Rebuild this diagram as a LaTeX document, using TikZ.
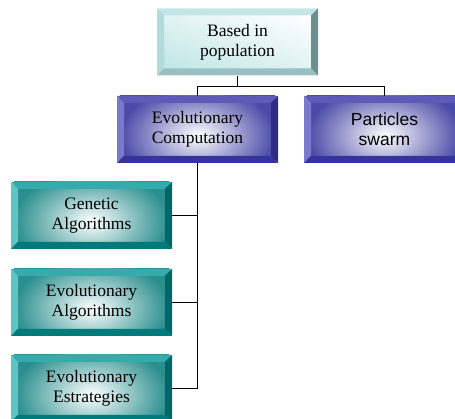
\documentclass[tikz,border=0pt]{standalone}
\usepackage{fontspec}
\setmainfont{Liberation Serif}
\newfontfamily\arialf{Liberation Sans}
\usetikzlibrary{shadings}
\definecolor{tt}{HTML}{C4E6E6}
\definecolor{tl}{HTML}{B2DCDC}
\definecolor{tr}{HTML}{6E8F8F}
\definecolor{tb}{HTML}{98C0C0}
\definecolor{tfa}{HTML}{BFE6E6}
\definecolor{tfb}{HTML}{E2F3F3}
\definecolor{bt}{HTML}{5C5CB8}
\definecolor{bl}{HTML}{7A7ACC}
\definecolor{br}{HTML}{2C2C84}
\definecolor{bb}{HTML}{34349A}
\definecolor{bf}{HTML}{4A4AA8}
\definecolor{ct}{HTML}{36ABAB}
\definecolor{cl}{HTML}{5EC4C4}
\definecolor{cr}{HTML}{006666}
\definecolor{cb}{HTML}{007A7A}
\definecolor{cf}{HTML}{2A8E8E}
\newcommand\bevcoords{%
 \path (path picture bounding box.south west) coordinate (bsw)
       (path picture bounding box.north east) coordinate (bne)
       (path picture bounding box.north west) coordinate (bnw)
       (path picture bounding box.south east) coordinate (bse)
       ([shift={(7pt,7pt)}]bsw) coordinate (isw)
       ([shift={(-7pt,-7pt)}]bne) coordinate (ine)
       ([shift={(7pt,-7pt)}]bnw) coordinate (inw)
       ([shift={(-7pt,7pt)}]bse) coordinate (ise);}
\newcommand\bevframe[4]{%
 \fill[#1] (bnw) -- (bne) -- (ine) -- (inw) -- cycle;
 \fill[#2] (bnw) -- (inw) -- (isw) -- (bsw) -- cycle;
 \fill[#3] (bne) -- (bse) -- (ise) -- (ine) -- cycle;
 \fill[#4] (bsw) -- (isw) -- (ise) -- (bse) -- cycle;}
\tikzset{
 boxbase/.style={minimum width=161pt, minimum height=67pt, inner sep=0pt,
   align=center, font=\fontsize{17.5}{20}\selectfont},
 topbox/.style={boxbase, path picture={\bevcoords
   \shade[lower left=tfa, upper left=tfb, lower right=tfb, upper right=white] (isw) rectangle (ine);
   \bevframe{tt}{tl}{tr}{tb}}},
 bluebox/.style={boxbase, path picture={\bevcoords
   \shade[inner color=white, outer color=bf] ([shift={(-4pt,-30pt)}]isw) rectangle ([shift={(4pt,18pt)}]ine);
   \bevframe{bt}{bl}{br}{bb}}},
 tealbox/.style={boxbase, path picture={\bevcoords
   \shade[inner color=white, outer color=cf] ([shift={(-4pt,-30pt)}]isw) rectangle ([shift={(4pt,18pt)}]ine);
   \bevframe{ct}{cl}{cr}{cb}}},
 conn/.style={draw=black, line width=1.4pt},
}
\begin{document}
\begin{tikzpicture}[x=1pt,y=1pt]
\useasboundingbox (0,0) rectangle (455,419);
\node[topbox]  (top) at (237.5,377)  {Based in\\population};
\node[bluebox] (ec)  at (197.5,289.5) {Evolutionary\\Computation};
\node[bluebox, font=\arialf\fontsize{17.5}{20}\selectfont] (ps) at (384.5,289.5) {Particles\\swarm};
\node[tealbox] (ga)  at (91.5,203.5) {Genetic\\Algorithms};
\node[tealbox] (ea)  at (91.5,116.5) {Evolutionary\\Algorithms};
\node[tealbox] (es)  at (91.5,30.5)  {Evolutionary\\Estrategies};
\draw[conn] (top.south) -- ++(0,-11) coordinate (j);
\draw[conn] (ec.north) |- (j) -| (ps.north);
\draw[conn] (ec.south) |- (es.east);
\draw[conn] (ga.east) -- (ga.east -| ec.south);
\draw[conn] (ea.east) -- (ea.east -| ec.south);
\end{tikzpicture}
\end{document}
